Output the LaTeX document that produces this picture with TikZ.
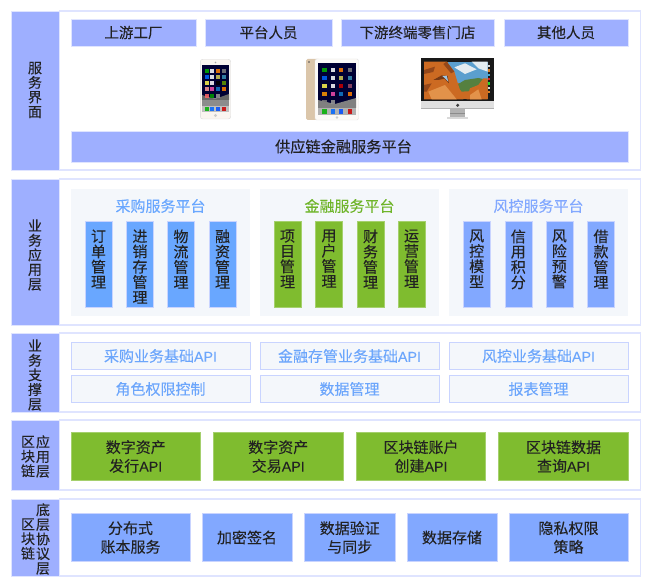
\documentclass[tikz,border=0pt]{standalone}
\usepackage{fontspec}
\setmainfont[FakeBold=0.12]{Noto Sans CJK SC}
\newfontfamily\apifont[FakeBold=0.05,Scale=0.95]{Liberation Sans}
\newcommand{\API}{{\apifont API}}
\definecolor{labfill}{HTML}{9EAFFF}
\definecolor{frameline}{HTML}{DFE4FF}
\definecolor{cellline}{HTML}{C9D4FF}
\definecolor{panelfill}{HTML}{F4F7FB}
\definecolor{bluea}{HTML}{69A7FF}
\definecolor{blueb}{HTML}{82A8FF}
\definecolor{greena}{HTML}{7FBC2F}
\definecolor{txt}{HTML}{222222}
\definecolor{lighttxt}{HTML}{6CA6FB}
\definecolor{greentxt}{HTML}{6FB52A}
\definecolor{gold}{HTML}{DBC6AA}
\definecolor{rock}{HTML}{CC6A22}
\definecolor{rocklight}{HTML}{E2924A}
\definecolor{rockdark}{HTML}{94471A}
\definecolor{sky}{HTML}{5B9FCE}
\definecolor{cloud}{HTML}{E4ECF0}
\definecolor{hill}{HTML}{55803F}
\newcommand{\fs}[1]{\fontsize{#1pt}{#1pt}\selectfont}
\newcommand{\stackedtxt}[1]{\parbox[c][86pt][t]{27pt}{\fontsize{15pt}{15.3pt}\selectfont\centering\vspace*{8.5pt}#1\par}}
\tikzset{
  base/.style={inner sep=0pt,outer sep=0pt,align=center,text=txt},
  frame/.style={base,draw=frameline,line width=1.3pt,fill=white},
  lab/.style={base,fill=labfill,draw=frameline,line width=.6pt,minimum width=48pt},
  labtxt/.style={base,font=\fontsize{14pt}{14.6pt}\selectfont},
  topbox/.style={base,fill=labfill,draw=frameline,line width=.7pt,minimum height=27pt,font=\fs{14.5}},
  panel/.style={base,fill=panelfill,minimum width=179pt,minimum height=127pt},
  ptitle/.style={base,font=\fs{15}},
  vbox/.style={base,draw=cellline,line width=.5pt,minimum width=27pt,minimum height=86pt},
  apibox/.style={base,fill=panelfill,draw=cellline,line width=1pt,minimum width=179pt,minimum height=26.5pt,text=lighttxt,font=\fs{15}},
  wide/.style={base,line width=.7pt,minimum height=48.5pt,font=\fontsize{15pt}{18.7pt}\selectfont},
  greenb/.style={wide,fill=greena,draw=greena!70!white},
  blueb2/.style={wide,fill=blueb,draw=cellline},
}
\begin{document}
\begin{tikzpicture}[x=1pt,y=-1pt]
\useasboundingbox (0,0) rectangle (650,588);
\fill[white] (0,0) rectangle (650,588);
% layer frames
\node[frame,minimum width=581pt,minimum height=159pt] (f1) at (350,90.5) {};
\node[frame,minimum width=581pt,minimum height=146pt] (f2) at (350,252) {};
\node[frame,minimum width=581pt,minimum height=79pt] (f3) at (350,372.5) {};
\node[frame,minimum width=581pt,minimum height=70pt] (f4) at (350,455) {};
\node[frame,minimum width=581pt,minimum height=77pt] (f5) at (350,537.5) {};
% layer labels
\node[lab,minimum height=159pt] (l1) at (35,90.5) {};
\node[lab,minimum height=146pt] (l2) at (35,252) {};
\node[lab,minimum height=79pt] (l3) at (35,372.5) {};
\node[lab,minimum height=70pt] (l4) at (35,455) {};
\node[lab,minimum height=77pt] (l5) at (35,537.5) {};
\node[labtxt] (l1t) at (35,90) {服\\务\\界\\面};
\node[labtxt] (l2t) at (35,255) {业\\务\\应\\用\\层};
\node[labtxt] (l3t) at (35,375) {业\\务\\支\\撑\\层};
\node[labtxt] (l4a) at (28,456.5) {区\\块\\链};
\node[labtxt] (l4b) at (43,456.5) {应\\用\\层};
\node[labtxt] (l5a) at (28,539) {区\\块\\链};
\node[labtxt] (l5b) at (43,539) {底\\层\\协\\议\\层};
% service row
\node[topbox,minimum width=125pt] (u1) at (133.5,32.5) {上游工厂};
\node[topbox,minimum width=127pt] (u2) at (268.5,32.5) {平台人员};
\node[topbox,minimum width=153pt] (u3) at (417.5,32.5) {下游终端零售门店};
\node[topbox,minimum width=124pt] (u4) at (566,32.5) {其他人员};
\node[topbox,minimum width=557pt,minimum height=31pt,text width=557pt,font=\fs{15.2}] (bar) at (349.5,146.5) {\hspace*{-12pt}供应链金融服务平台};
% iPhone
\fill[rounded corners=2.5pt,fill=white!92!brown,draw=black!15] (200.3,59.3) rectangle (230.7,119);
\fill[fill=black!80!blue] (202,65.5) rectangle (229,112);
\fill[fill=black!45] (202,98) rectangle (229,106);
\fill[fill=black!60] (202,95) -- (215,99) -- (229,94) -- (229,100) -- (202,100) -- cycle;
\fill[fill=black!25] (202,106) rectangle (229,112);
\foreach \cx/\cy/\cc in {206.7/70.7/green!70!black,212.3/70.7/white,218.3/70.7/orange,224.3/70.7/black!50,
 206.7/77/blue!60!cyan,212.3/77/white,218.3/77/yellow!60!gray,224.3/77/cyan!70!black,
 206.7/83/yellow!70!white,212.3/83/white,218.3/83/black,224.3/83/green!60!red,
 206.7/89.3/red!40!white,212.3/89.3/magenta!70!white,218.3/89.3/cyan!60!blue,224.3/89.3/orange,
 206.7/95.7/red!60!white,212.3/95.7/green!60!black,218.3/95.7/black!40,
 206.7/109/green!70!black,212.3/109/blue!60!cyan,218.3/109/blue!70!cyan,224.3/109/red!80!black}
  \fill[fill=\cc,opacity=.85] (\cx-2,\cy-2) rectangle (\cx+2,\cy+2);
\fill[black!35] (215.5,62.5) circle (.8pt);
\fill[black!20] (215.5,115.5) circle (1.6pt);
% iPad
\fill[rounded corners=1.5pt,fill=gold] (306,59) rectangle (320,120);
\fill[black!70] (309,62) circle (.9pt);
\fill[rounded corners=1.5pt,fill=white!96!brown,draw=black!10] (315,59) rectangle (358.5,120);
\fill[fill=black!80!blue] (318,63) rectangle (356,115);
\fill[fill=black!50] (318,100) -- (335,104) -- (356,98) -- (356,108) -- (318,108) -- cycle;
\fill[fill=black!30] (318,108) rectangle (356,115);
\foreach \cx/\cy/\cc in {324.3/70/green!70!black,332.7/70/white,341/70/orange,349.7/70/black!50,
 324.3/78.3/blue!60!cyan,332.7/78.3/white,341/78.3/yellow!60!gray,349.7/78.3/cyan!70!black,
 324.3/86/yellow!70!white,332.7/86/white,341/86/red!80!black,349.7/86/orange!60!blue,
 324.3/94/red!40!yellow,332.7/94/magenta!70!white,341/94/cyan!60!blue,349.7/94/orange,
 324.3/102.3/black!50,332.7/102.3/black!40,
 324.3/111.7/green!70!black,332.7/111.7/blue!60!cyan,341/111.7/blue!70!cyan,349.7/111.7/red!80!black}
  \fill[fill=\cc,opacity=.85] (\cx-2.2,\cy-2.2) rectangle (\cx+2.2,\cy+2.2);
\fill[black!20] (337,117.5) circle (1.3pt);
% iMac
\begin{scope}[shift={(415,50)},x=.3333pt,y=-.3333pt]
\fill[black!90] (18,25) rectangle (238,152);
\fill[black!12] (18,152) rectangle (238,178);
\fill[black!30] (18,174) rectangle (238,178);
\fill[black!75] (128,166) circle (5);
\fill[black!30] (105,178) rectangle (150,200);
\fill[black!15] (97,200) rectangle (158,208);
\fill[black!45] (105,188) rectangle (150,192);
% photo
\fill[rock] (27,35) rectangle (218,148);
\fill[sky] (100,35) rectangle (218,100);
\fill[cloud] (118,52) -- (150,40) -- (185,58) -- (150,72) -- cycle;
\fill[cloud] (170,35) -- (218,35) -- (218,65) -- (190,55) -- cycle;
\fill[hill] (125,105) -- (150,90) -- (190,84) -- (218,90) -- (218,120) -- (140,125) -- cycle;
\fill[rock] (27,35) -- (95,35) -- (118,65) -- (130,105) -- (145,148) -- (27,148) -- cycle;
\fill[rock] (155,148) -- (165,115) -- (190,105) -- (205,85) -- (218,85) -- (218,148) -- cycle;
\fill[rockdark] (95,35) -- (118,65) -- (108,70) -- (85,42) -- cycle;
\fill[rockdark] (27,60) -- (60,50) -- (55,66) -- (27,72) -- cycle;
\fill[rockdark!80!black] (55,90) -- (80,76) -- (98,78) -- (102,100) -- (88,86) -- (70,90) -- cycle;
\fill[sky!60!white] (82,78) -- (95,77) -- (100,95) -- (90,85) -- cycle;
\fill[rocklight] (40,125) -- (90,105) -- (125,148) -- (50,148) -- cycle;
\fill[rocklight] (165,135) -- (190,118) -- (200,148) -- (165,148) -- cycle;
\fill[rockdark] (27,105) -- (50,100) -- (35,125) -- (27,125) -- cycle;
\foreach \cy/\cc in {45/white,58/orange,71/cyan,84/red,97/green,110/white,123/orange}
  \fill[\cc!70!gray] (219,\cy) rectangle (226,\cy+7);
\end{scope}
% application panels
\node[panel] (p1) at (160.5,252.5) {};
\node[panel] (p2) at (349.5,252.5) {};
\node[panel] (p3) at (538.5,252.5) {};
\node[ptitle,text=bluea] (p1t) at (160.5,206) {采购服务平台};
\node[ptitle,text=greentxt] (p2t) at (349.5,206) {金融服务平台};
\node[ptitle,text=blueb] (p3t) at (538.5,206) {风控服务平台};
\node[vbox,fill=bluea] (a1) at (98.5,264) {\stackedtxt{订\\单\\管\\理}};
\node[vbox,fill=bluea] (a2) at (140,264) {\stackedtxt{进\\销\\存\\管\\理}};
\node[vbox,fill=bluea] (a3) at (181,264) {\stackedtxt{物\\流\\管\\理}};
\node[vbox,fill=bluea] (a4) at (222.5,264) {\stackedtxt{融\\资\\管\\理}};
\node[vbox,fill=greena,draw=greena!70!white] (b1) at (287.5,264) {\stackedtxt{项\\目\\管\\理}};
\node[vbox,fill=greena,draw=greena!70!white] (b2) at (329,264) {\stackedtxt{用\\户\\管\\理}};
\node[vbox,fill=greena,draw=greena!70!white] (b3) at (370.5,264) {\stackedtxt{财\\务\\管\\理}};
\node[vbox,fill=greena,draw=greena!70!white] (b4) at (411.5,264) {\stackedtxt{运\\营\\管\\理}};
\node[vbox,fill=blueb] (c1) at (476.7,264) {\stackedtxt{风\\控\\模\\型}};
\node[vbox,fill=blueb] (c2) at (518.3,264) {\stackedtxt{信\\用\\积\\分}};
\node[vbox,fill=blueb] (c3) at (559.3,264) {\stackedtxt{风\\险\\预\\警}};
\node[vbox,fill=blueb] (c4) at (601,264) {\stackedtxt{借\\款\\管\\理}};
% support layer
\node[apibox] (s1) at (160.5,356) {采购业务基础\API};
\node[apibox] (s2) at (349.5,356) {金融存管业务基础\API};
\node[apibox] (s3) at (538.5,356) {风控业务基础\API};
\node[apibox] (s4) at (160.5,389) {角色权限控制};
\node[apibox] (s5) at (349.5,389) {数据管理};
\node[apibox] (s6) at (538.5,389) {报表管理};
% blockchain application
\node[greenb,minimum width=129.5pt] (g1) at (135.75,456.5) {数字资产\\发行\API};
\node[greenb,minimum width=129.5pt] (g2) at (278.25,456.5) {数字资产\\交易\API};
\node[greenb,minimum width=129.5pt] (g3) at (421,456.5) {区块链账户\\创建\API};
\node[greenb,minimum width=129.5pt] (g4) at (563.5,456.5) {区块链数据\\查询\API};
% blockchain base
\node[blueb2,minimum width=119pt] (h1) at (130.5,537.5) {\raisebox{-1pt}{\parbox{119pt}{\centering 分布式\\账本服务}}};
\node[blueb2,minimum width=90pt] (h2) at (247,537.5) {加密签名};
\node[blueb2,minimum width=90.5pt] (h3) at (349.75,537.5) {\raisebox{-1pt}{\parbox{90pt}{\centering 数据验证\\与同步}}};
\node[blueb2,minimum width=90pt] (h4) at (452,537.5) {数据存储};
\node[blueb2,minimum width=119pt] (h5) at (568.5,537.5) {\raisebox{-1pt}{\parbox{119pt}{\centering 隐私权限\\策略}}};
\end{tikzpicture}
\end{document}
